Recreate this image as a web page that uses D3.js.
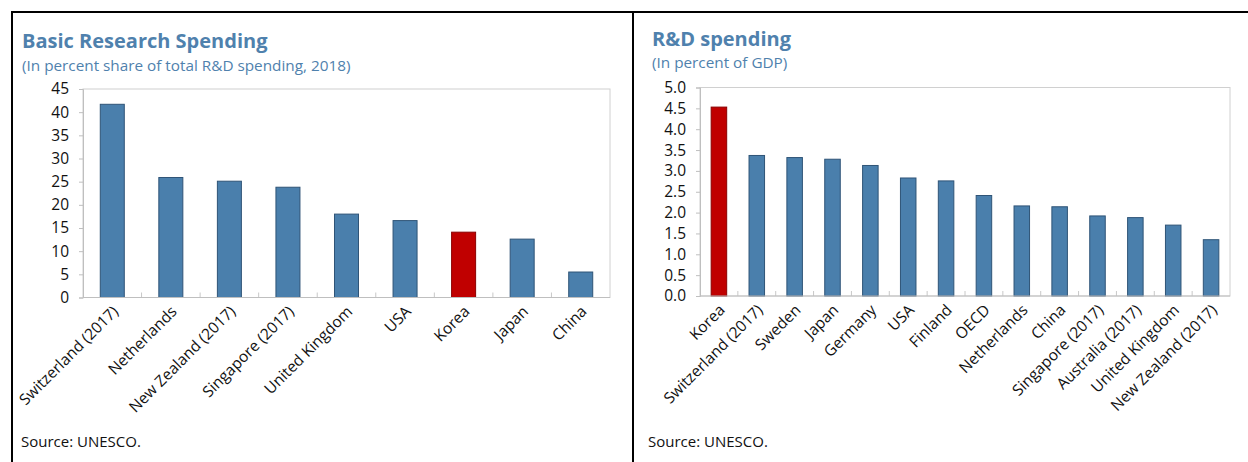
<!DOCTYPE html>
<html>
<head>
<meta charset="utf-8">
<script src="https://cdn.jsdelivr.net/npm/d3@7"></script>
<style>
  html, body { margin: 0; padding: 0; background: #fff; }
  svg { display: block; }
  text { font-family: "Open Sans", "Noto Sans", sans-serif; }
</style>
</head>
<body>
<svg id="chart" width="1248" height="462"></svg>
<script>
// Basic research share of total R&D spending (percent, 2018)
const basicCountries = ["Switzerland (2017)", "Netherlands", "New Zealand (2017)", "Singapore (2017)",
  "United Kingdom", "USA", "Korea", "Japan", "China"];
const basicValues = [41.7, 25.9, 25.1, 23.8, 18.0, 16.6, 14.1, 12.6, 5.5];
const basicTicks = [0, 5, 10, 15, 20, 25, 30, 35, 40, 45];

// R&D spending (percent of GDP)
const rdCountries = ["Korea", "Switzerland (2017)", "Sweden", "Japan", "Germany", "USA", "Finland", "OECD",
  "Netherlands", "China", "Singapore (2017)", "Australia (2017)", "United Kingdom", "New Zealand (2017)"];
const rdValues = [4.53, 3.37, 3.32, 3.28, 3.13, 2.83, 2.76, 2.41, 2.16, 2.14, 1.92, 1.88, 1.70, 1.35];
const rdTicks = [0, 0.5, 1.0, 1.5, 2.0, 2.5, 3.0, 3.5, 4.0, 4.5, 5.0];

const highlight = "Korea";
const BLUE = "#4a7fac";
const RED = "#c00000";
const TITLE = "#4f81ad";

const svg = d3.select("#chart");

// panel frame
svg.append("line").attr("x1", 11).attr("x2", 1248).attr("y1", 12).attr("y2", 12)
  .attr("stroke", "#000").attr("stroke-width", 2);
svg.append("line").attr("x1", 12).attr("x2", 12).attr("y1", 11).attr("y2", 462)
  .attr("stroke", "#000").attr("stroke-width", 2);
svg.append("line").attr("x1", 633).attr("x2", 633).attr("y1", 11).attr("y2", 462)
  .attr("stroke", "#000").attr("stroke-width", 2);

function panel(opt) {
  const g = svg.append("g");
  g.append("text").attr("x", opt.tx).attr("y", opt.titleY)
    .attr("fill", TITLE).attr("font-weight", 700).attr("font-size", opt.titleSize)
    .text(opt.title);
  g.append("text").attr("x", opt.tx).attr("y", opt.subY)
    .attr("fill", TITLE).attr("font-size", 15.3)
    .text(opt.subtitle);

  const x = d3.scaleBand().domain(opt.cats).range([opt.left, opt.right]).paddingInner(0.59).paddingOuter(0.295);
  const xb = d3.scaleBand().domain(opt.cats).range([opt.left, opt.right]);
  const y = d3.scaleLinear().domain([0, opt.max]).range([opt.bottom, opt.top]);

  // plot frame
  g.append("rect").attr("x", opt.left).attr("y", opt.top)
    .attr("width", opt.right - opt.left).attr("height", opt.bottom - opt.top)
    .attr("fill", "none").attr("stroke", "#d0d0d0").attr("stroke-width", 1);

  // y axis
  const ya = g.append("g").attr("transform", `translate(${opt.left},0)`)
    .call(d3.axisLeft(y).tickValues(opt.ticks).tickSize(4).tickPadding(10).tickFormat(opt.fmt));
  ya.select(".domain").attr("stroke", "#bfbfbf");
  ya.selectAll(".tick line").attr("stroke", "#bfbfbf");
  ya.selectAll(".tick text").attr("font-size", 15.5).attr("fill", "#111")
    .attr("font-family", "'Open Sans', sans-serif");

  // category separators on the x axis
  g.selectAll("line.sep").data(opt.cats.slice(1)).enter().append("line")
    .attr("class", "sep")
    .attr("x1", d => xb(d)).attr("x2", d => xb(d))
    .attr("y1", opt.bottom).attr("y2", opt.bottom - 5)
    .attr("stroke", "#c8c8c8");

  // bars
  g.selectAll("rect.bar").data(opt.cats).enter().append("rect")
    .attr("class", "bar")
    .attr("x", d => x(d)).attr("width", x.bandwidth())
    .attr("y", (d, i) => y(opt.vals[i]))
    .attr("height", (d, i) => opt.bottom - y(opt.vals[i]))
    .attr("fill", d => d === highlight ? RED : BLUE)
    .attr("stroke", d => d === highlight ? "#8a0000" : "#2f5477")
    .attr("stroke-width", 1);

  g.append("line").attr("x1", opt.left).attr("x2", opt.right)
    .attr("y1", opt.bottom).attr("y2", opt.bottom).attr("stroke", "#bfbfbf");

  // rotated category labels
  g.selectAll("text.cat").data(opt.cats).enter().append("text")
    .attr("class", "cat")
    .attr("text-anchor", "end")
    .attr("font-size", 15.5).attr("fill", "#111")
    .attr("transform", d => `translate(${xb(d) + xb.bandwidth() / 2 + 7},${opt.bottom + 15}) rotate(-45)`)
    .text(d => d);

  g.append("text").attr("x", opt.sx).attr("y", 447)
    .attr("font-size", 15).attr("fill", "#111").text("Source: UNESCO.");
}

panel({
  title: "Basic Research Spending",
  subtitle: "(In percent share of total R&D spending, 2018)",
  tx: 22, sx: 21, titleY: 48, subY: 71, titleSize: 20,
  cats: basicCountries, vals: basicValues, ticks: basicTicks, max: 45,
  left: 83, right: 610, top: 89, bottom: 297.5,
  fmt: d3.format("d")
});

panel({
  title: "R&D spending",
  subtitle: "(In percent of GDP)",
  tx: 652, sx: 648, titleY: 46, subY: 68, titleSize: 20,
  cats: rdCountries, vals: rdValues, ticks: rdTicks, max: 5,
  left: 700, right: 1230, top: 87.5, bottom: 296,
  fmt: d3.format(".1f")
});
</script>
</body>
</html>
